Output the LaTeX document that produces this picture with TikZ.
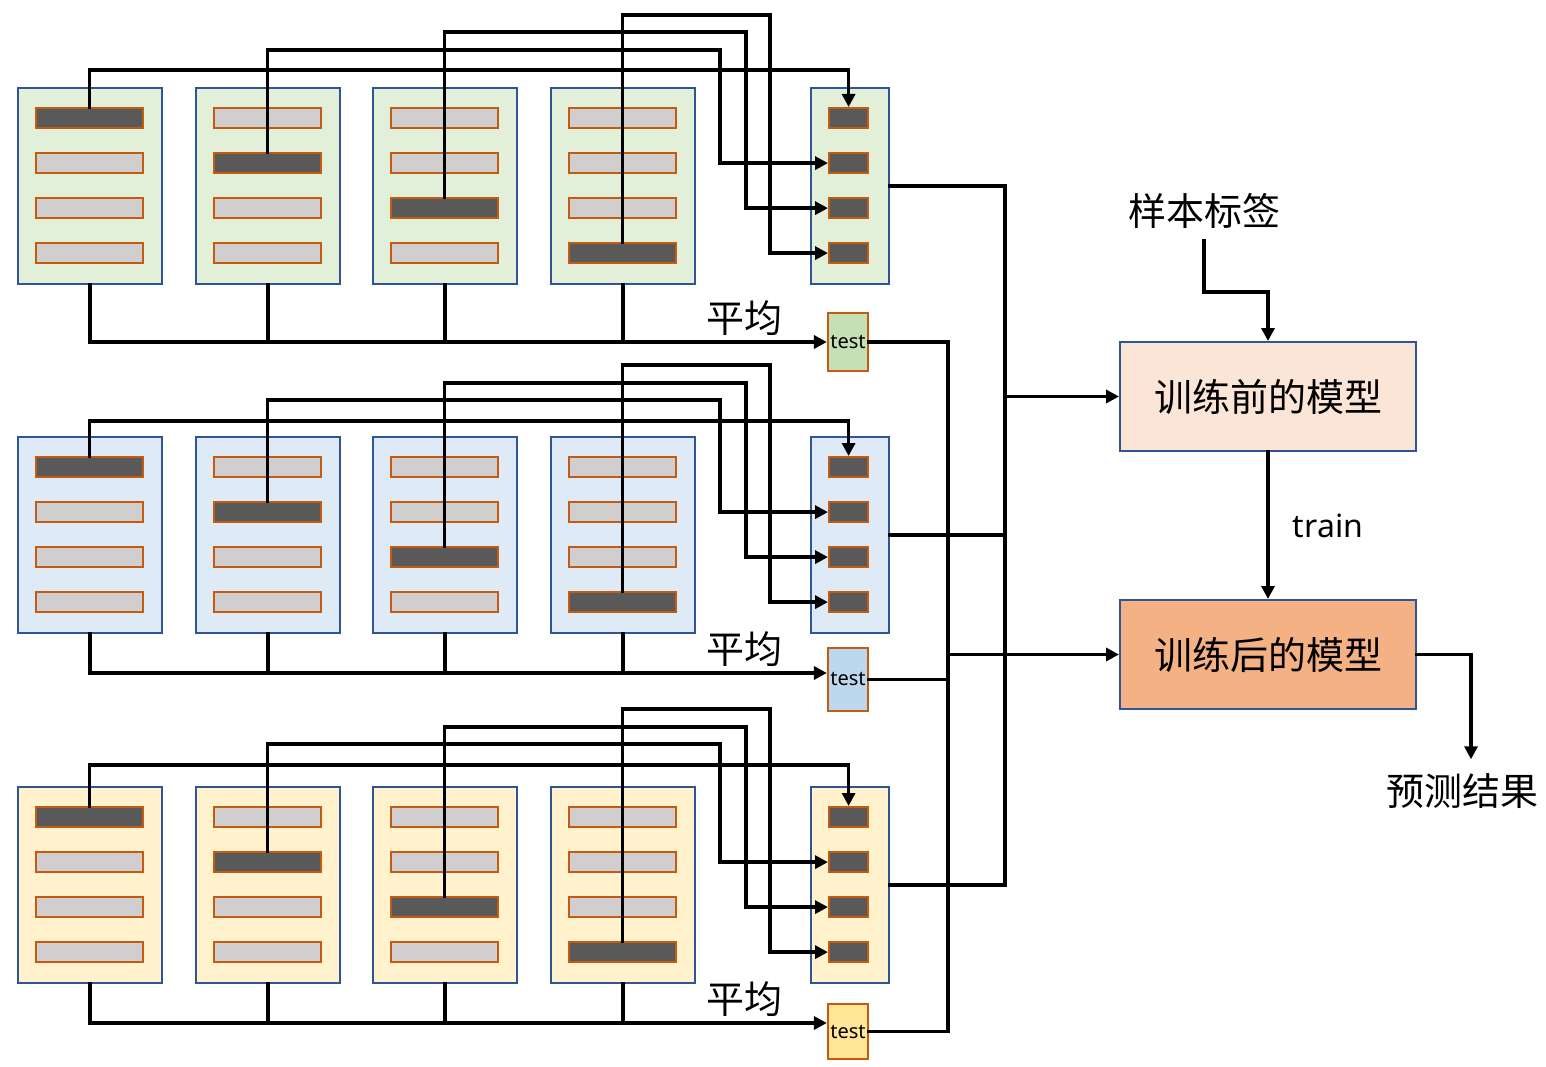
\documentclass[tikz,border=0pt]{standalone}
\usepackage{fontspec}
\setmainfont{Noto Sans}
\newfontfamily\cjk{Noto Sans CJK SC}
\usetikzlibrary{arrows.meta}
\definecolor{boxblue}{HTML}{2F5597}
\definecolor{barbrown}{HTML}{C55A11}
\definecolor{barlight}{HTML}{D0CECE}
\definecolor{bardark}{HTML}{595959}
\definecolor{gafill}{HTML}{E2F0D9}
\definecolor{gbfill}{HTML}{DEEBF7}
\definecolor{gcfill}{HTML}{FFF2CC}
\definecolor{tafill}{HTML}{C5E0B4}
\definecolor{tbfill}{HTML}{BDD7EE}
\definecolor{tcfill}{HTML}{FFE699}
\definecolor{beforefill}{HTML}{FBE5D6}
\definecolor{afterfill}{HTML}{F4B183}
\begin{document}
\begin{tikzpicture}[x=1pt,y=-1pt,
  grpbox/.style={draw=boxblue, line width=2pt, minimum width=144pt, minimum height=196pt, anchor=north west, inner sep=0pt},
  colbox/.style={grpbox, minimum width=78pt},
  barbox/.style={draw=barbrown, line width=2.2pt, minimum width=107pt, minimum height=20pt, anchor=north west, inner sep=0pt},
  sbarbox/.style={barbox, fill=bardark, minimum width=39pt},
  testbox/.style={draw=barbrown, line width=2.2pt, minimum width=40pt, inner sep=0pt, font=\fontsize{20}{22}\selectfont},
  modelbox/.style={draw=boxblue, line width=2pt, minimum width=296pt, minimum height=109pt, inner sep=0pt, font=\cjk\fontsize{38}{44}\selectfont},
  cjklabel/.style={inner sep=0pt, font=\cjk\fontsize{38}{44}\selectfont},
  conn/.style={line width=3.4pt, line cap=rect, line join=miter},
  arr/.style={conn, -{Triangle[length=13pt,width=13pt]}},
]
\useasboundingbox (0,0) rectangle (1546,1067);
\coordinate (busA) at (948,0);
\coordinate (busB) at (1005,0);

\foreach \g/\dy/\fc/\tc/\ha/\hb/\hc/\hd/\yb/\ttop/\tbot in {
  1/0/gafill/tafill/70/50/32/15/342/313/371,
  2/349/gbfill/tbfill/421/400/383/365/673/648/711,
  3/699/gcfill/tcfill/765/744/727/709/1023/1004/1059}{
  % four data boxes
  \foreach \xx [count=\i] in {17,195,372,550}{
    \node[grpbox, fill=\fc] (g\g b\i) at (\xx,{87+\dy}) {};
    \foreach \j in {1,2,3,4}{
      \ifnum\i=\j \def\bc{bardark}\else\def\bc{barlight}\fi
      \node[barbox, fill=\bc] (g\g b\i r\j) at ({\xx+18},{107+\dy+45*(\j-1)}) {};
    }
  }
  % collected column
  \node[colbox, fill=\fc] (g\g c) at (810,{87+\dy}) {};
  \foreach \j in {1,2,3,4}{
    \node[sbarbox] (g\g c\j) at (828,{107+\dy+45*(\j-1)}) {};
  }
  % test box and label
  \node[testbox, fill=\tc, minimum height={\tbot-\ttop}] (g\g t) at (848,{(\ttop+\tbot)/2}) {test};
  \node[cjklabel] (g\g avg) at (744,{\yb-24}) {平均};
  % connectors from data boxes to column
  \coordinate (g\g h1) at (0,\ha);
  \draw[arr] (g\g b1r1.north) |- (g\g h1 -| g\g c1.north) -- (g\g c1.north);
  \draw[arr] (g\g b2r2.north) |- (720,\hb) |- (g\g c2.west);
  \draw[arr] (g\g b3r3.north) |- (746,\hc) |- (g\g c3.west);
  \draw[arr] (g\g b4r4.north) |- (770,\hd) |- (g\g c4.west);
  % averaging lines
  \coordinate (g\g m) at (0,\yb);
  \draw[arr] (g\g b1.south) |- (g\g m -| g\g t.west);
  \foreach \i in {2,3,4}{
    \draw[conn] (g\g b\i.south) -- (g\g b\i.south |- g\g m);
  }
}

% right part
\node[modelbox, fill=beforefill] (before) at (1268,396.5) {训练前的模型};
\node[modelbox, fill=afterfill] (after) at (1268,654.5) {训练后的模型};
\node[cjklabel] (lab) at (1204,211) {样本标签};
\node[cjklabel] (result) at (1462,791) {预测结果};
\node[inner sep=0pt, font=\fontsize{32}{36}\selectfont] (trainlbl) at (1328,526) {train};

% buses
\draw[conn] (g1c.east) -| (busB |- g3c.east) -- (g3c.east);
\draw[conn] (g2c.east) -- (g2c.east -| busB);
\draw[arr] (before.west -| busB) -- (before.west);
\draw[conn] (g1t.east) -| (busA |- g3t.east) -- (g3t.east);
\draw[conn] (g2t.east) -- (g2t.east -| busA);
\draw[arr] (after.west -| busA) -- (after.west);

\draw[arr] ([yshift=-12pt]lab.south) |- (1236,292) -| (before.north);
\draw[arr] (before.south) -- (after.north);
\draw[arr] (after.east) -| ([xshift=9pt,yshift=14pt]result.north);
\end{tikzpicture}
\end{document}
